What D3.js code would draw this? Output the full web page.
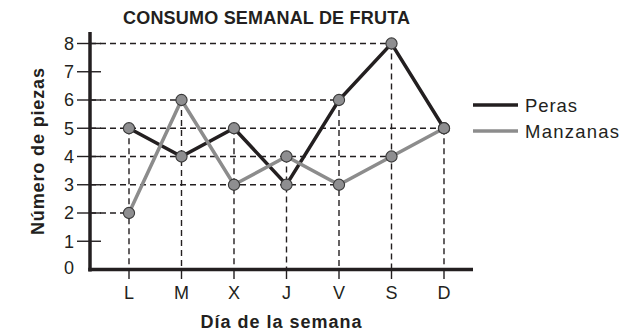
<!DOCTYPE html>
<html>
<head>
<meta charset="utf-8">
<script src="https://cdn.jsdelivr.net/npm/d3@7"></script>
<style>
  body { margin: 0; background: #fff; }
  svg text { font-family: "Liberation Sans", Arial, sans-serif; fill: #231f20; }
</style>
</head>
<body>
<svg id="chart" width="639" height="335"></svg>
<script>
// Días de la semana y consumo diario de cada fruta
const days = ["L", "M", "X", "J", "V", "S", "D"];
const peras = [5, 4, 5, 3, 6, 8, 5];
const manzanas = [2, 6, 3, 4, 3, 4, 5];
const yTicks = [0, 1, 2, 3, 4, 5, 6, 7, 8];
const seriesNames = ["Peras", "Manzanas"];
const seriesColors = ["#231f20", "#8c8c8c"];

const svg = d3.select("#chart");
const ink = "#231f20";

const x = d3.scalePoint().domain(days).range([129, 444]);
const y = d3.scaleLinear().domain([0, 8]).range([269.5, 43.5]);
const x0 = 90, xEnd = 473, yTop = 32;

const series = [peras, manzanas].map((vals, i) => ({
  name: seriesNames[i],
  color: seriesColors[i],
  points: days.map((d, j) => ({ day: d, value: vals[j] }))
}));

// Guías discontinuas: verticales desde el punto más alto de cada día
const grid = svg.append("g")
  .attr("stroke", ink).attr("stroke-width", 1.4).attr("stroke-dasharray", "6,4");
days.forEach((d, j) => {
  const top = Math.max(peras[j], manzanas[j]);
  grid.append("line")
    .attr("x1", x(d)).attr("x2", x(d))
    .attr("y1", y(top)).attr("y2", y(0));
});
// Horizontales hasta el último día que alcanza cada valor
const levels = d3.rollup(
  series.flatMap(s => s.points),
  v => d3.max(v, p => x(p.day)),
  p => p.value
);
levels.forEach((xr, v) => {
  grid.append("line")
    .attr("x1", x0).attr("x2", xr)
    .attr("y1", y(v)).attr("y2", y(v));
});

// Eje Y
const yAxis = svg.append("g");
yAxis.append("line")
  .attr("x1", x0).attr("x2", x0).attr("y1", yTop).attr("y2", y(0) + 2)
  .attr("stroke", ink).attr("stroke-width", 3.5);
yTicks.filter(t => t > 0).forEach(t => {
  yAxis.append("line")
    .attr("x1", 77).attr("x2", 101).attr("y1", y(t)).attr("y2", y(t))
    .attr("stroke", ink).attr("stroke-width", 1.4);
});
yAxis.selectAll("text").data(yTicks).join("text")
  .attr("x", 74).attr("y", t => t === 0 ? y(t) - 2 : y(t))
  .attr("dy", "0.36em")
  .attr("text-anchor", "end")
  .attr("font-size", 18)
  .text(t => t);

// Eje X
const xAxis = svg.append("g");
xAxis.append("line")
  .attr("x1", x0 - 1.75).attr("x2", xEnd).attr("y1", y(0)).attr("y2", y(0))
  .attr("stroke", ink).attr("stroke-width", 3.5);
days.forEach(d => {
  xAxis.append("line")
    .attr("x1", x(d)).attr("x2", x(d)).attr("y1", y(0)).attr("y2", 279)
    .attr("stroke", ink).attr("stroke-width", 1.4);
});
xAxis.selectAll("text").data(days).join("text")
  .attr("x", d => x(d)).attr("y", 299)
  .attr("text-anchor", "middle")
  .attr("font-size", 18)
  .text(d => d);

// Líneas de cada serie
const line = d3.line().x(p => x(p.day)).y(p => y(p.value));
series.forEach(s => {
  svg.append("path")
    .datum(s.points)
    .attr("d", line)
    .attr("fill", "none")
    .attr("stroke", s.color)
    .attr("stroke-width", 3.5)
    .attr("stroke-linejoin", "miter");
});
// Marcadores
series.slice().reverse().forEach(s => {
  svg.append("g").selectAll("circle").data(s.points).join("circle")
    .attr("cx", p => x(p.day)).attr("cy", p => y(p.value))
    .attr("r", 5.6)
    .attr("fill", "#8e8e90")
    .attr("stroke", "#3a3a3a")
    .attr("stroke-width", 1.1);
});

// Leyenda
const legendWidths = [52, 94];
const legend = svg.append("g");
series.forEach((s, i) => {
  const ly = 105 + i * 26;
  legend.append("line")
    .attr("x1", 473).attr("x2", 518).attr("y1", ly).attr("y2", ly)
    .attr("stroke", s.color).attr("stroke-width", 3.5);
  legend.append("text")
    .attr("x", 525).attr("y", ly).attr("dy", "0.36em")
    .attr("font-size", 18.5)
    .attr("textLength", legendWidths[i])
    .text(s.name);
});

// Títulos
svg.append("text")
  .attr("x", 266.5).attr("y", 23.5)
  .attr("text-anchor", "middle")
  .attr("font-size", 18).attr("font-weight", "bold")
  .attr("textLength", 287)
  .text("CONSUMO SEMANAL DE FRUTA");
svg.append("text")
  .attr("x", 281).attr("y", 328)
  .attr("text-anchor", "middle")
  .attr("font-size", 18).attr("font-weight", "bold")
  .attr("textLength", 161)
  .text("Día de la semana");
svg.append("text")
  .attr("transform", "translate(44,151.5) rotate(-90)")
  .attr("text-anchor", "middle")
  .attr("font-size", 18).attr("font-weight", "bold")
  .attr("textLength", 167)
  .text("Número de piezas");
</script>
</body>
</html>
